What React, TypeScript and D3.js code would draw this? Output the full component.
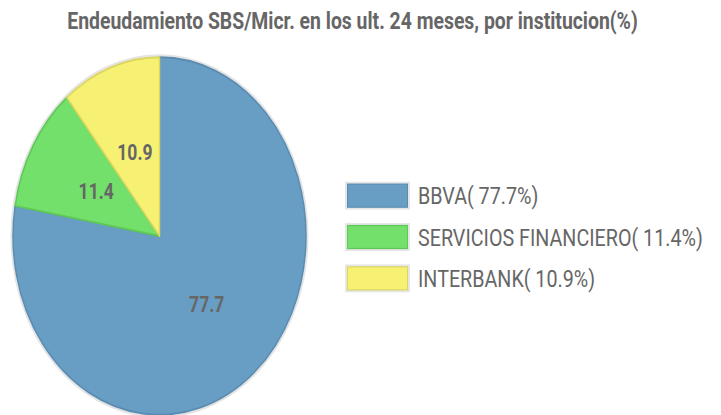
import React from "react";
import * as d3 from "d3";

const labels = ["BBVA", "SERVICIOS FINANCIERO", "INTERBANK"];
const values = [77.7, 11.4, 10.9];
const colors = ["#689ec4", "#72e06a", "#f6f173"];
const strokes = ["#5a8cb2", "#5fc858", "#dcd660"];
const title = "Endeudamiento SBS/Micr. en los ult. 24 meses, por institucion(%)";

const W = 721;
const H = 415;
const K = 1.22; // vertical stretch

export default function App() {
  const cx = 159.5;
  const cy = 236 / K;
  const r = 146.5;
  const pie = d3.pie<number>().sort(null).value((d) => d)(values);
  const arc = d3.arc<d3.PieArcDatum<number>>().innerRadius(0).outerRadius(r);
  const labelArc = d3.arc<d3.PieArcDatum<number>>().innerRadius(r * 0.5).outerRadius(r * 0.5);
  const legendY = d3.scaleBand<number>().domain(d3.range(values.length)).range([175 / K, 299 / K]);
  return (
    <svg width={W} height={H} style={{ position: "absolute", left: 0, top: 0 }}>
      <rect width={W} height={H} fill="#fff" />
      <g transform={`scale(1,${K})`} fontFamily="Roboto, sans-serif">
        <text x={352.5} y={29.5 / K} textAnchor="middle" fontWeight="bold" fontSize={19.4} fill="#666">
          {title}
        </text>
        <g transform={`translate(${cx},${cy})`}>
          <circle r={r + 1.5} fill="none" stroke="#e4e4e4" strokeWidth={2} />
          {pie.map((p, i) => (
            <path key={i} d={arc(p) || ""} fill={colors[i]} stroke={strokes[i]} strokeWidth={1.5} strokeLinejoin="round" />
          ))}
          {pie.map((p, i) => {
            const [x, y] = labelArc.centroid(p);
            return (
              <text key={i} x={x} y={y} dy="0.36em" textAnchor="middle" fontWeight="bold" fontSize={17.5} fill="#666">
                {values[i].toFixed(1)}
              </text>
            );
          })}
        </g>
        {values.map((v, i) => {
          const y = legendY(i)!;
          const bh = legendY.bandwidth();
          return (
            <g key={i} transform={`translate(0,${y + bh / 2})`}>
              <rect x={346} y={-11.5 / K - 1} width={63} height={23 / K + 2} fill="none" stroke="#e6e6e6" strokeWidth={2} />
              <rect x={347.5} y={-11.5 / K} width={60} height={23 / K} fill={colors[i]} stroke={strokes[i]} strokeWidth={1} />
              <text x={418} y={0} dy="0.36em" fontSize={19.7} fill="#666">
                {`${labels[i]}( ${v}%)`}
              </text>
            </g>
          );
        })}
      </g>
    </svg>
  );
}
